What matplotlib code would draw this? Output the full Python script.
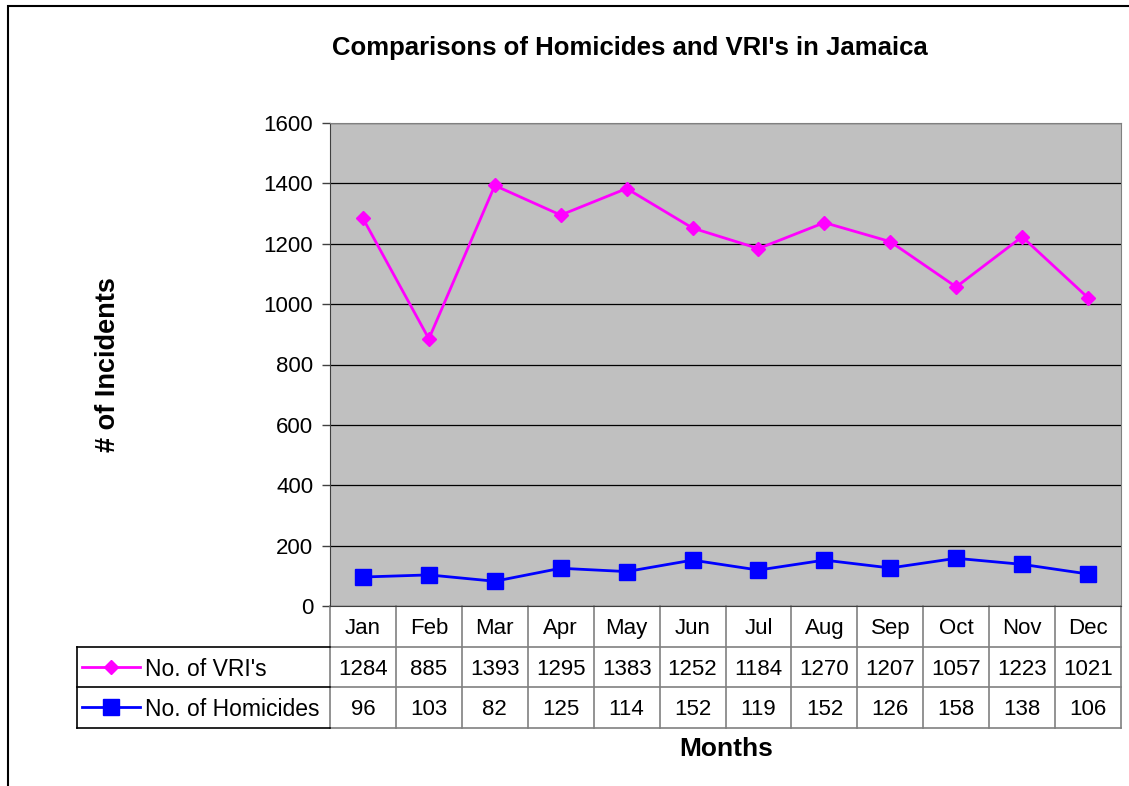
import matplotlib.pyplot as plt
from matplotlib.lines import Line2D
from matplotlib.patches import Rectangle

plt.rcParams['font.family'] = ['Liberation Sans', 'DejaVu Sans']

months = ["Jan", "Feb", "Mar", "Apr", "May", "Jun", "Jul", "Aug", "Sep", "Oct", "Nov", "Dec"]
vri = [1284, 885, 1393, 1295, 1383, 1252, 1184, 1270, 1207, 1057, 1223, 1021]
homicides = [96, 103, 82, 125, 114, 152, 119, 152, 126, 158, 138, 106]
series_names = ["No. of VRI's", "No. of Homicides"]

fs = 16
fig = plt.figure(figsize=(11.29, 7.86), dpi=100)
# outer chart border (clipped at right/bottom as in the reference)
fig.patches.append(Rectangle((8 / 1129, -0.01), 1.05, 1 - 6 / 786 + 0.01, transform=fig.transFigure,
                             fill=False, edgecolor='black', linewidth=1.5))

ax = fig.add_axes([330 / 1129, 1 - 606 / 786, 791 / 1129, 483 / 786])
ax.set_facecolor('#C0C0C0')
x = list(range(len(months)))
ax.plot(x, vri, color='#FF00FF', marker='D', markersize=7.5, linewidth=2, label=series_names[0])
ax.plot(x, homicides, color='#0000FF', marker='s', markersize=11, linewidth=2, label=series_names[1])

ax.set_xlim(-0.5, 11.5)
ax.set_ylim(0, 1600)
ax.set_yticks(range(0, 1601, 200))
ax.set_xticks([])
ax.grid(axis='y', color='black', linewidth=0.9)
ax.set_axisbelow(True)
ax.tick_params(axis='y', labelsize=fs, length=6, width=1, color='#404040', pad=6)
for s in ['top', 'right']:
    ax.spines[s].set_color('#808080')
for s in ['left', 'bottom']:
    ax.spines[s].set_color('#404040')

fig.text(630 / 1129, 1 - 48 / 786, "Comparisons of Homicides and VRI's in Jamaica", fontsize=18.5,
         fontweight='bold', ha='center', va='center')
fig.text(108 / 1129, 1 - 365 / 786, "# of Incidents", rotation=90, fontsize=19.5, fontweight='bold',
         ha='center', va='center')
fig.text(726 / 1129, 1 - 749 / 786, "Months", fontsize=19, fontweight='bold', ha='center', va='center')

# data table under the plot
tr = ax.get_xaxis_transform()
rh = 40.5 / 483
lx = (77 - 330) / 791 * 12 - 0.5  # legend cell left edge in data units
gray = '#808080'
for i in range(13):
    ax.plot([i - 0.5, i - 0.5], [0, -3 * rh], transform=tr, color=gray, lw=1.2, clip_on=False)
for k in (1, 2, 3):
    ax.plot([-0.5, 11.5], [-k * rh, -k * rh], transform=tr, color=gray, lw=1.2, clip_on=False)
    ax.plot([lx, -0.5], [-k * rh, -k * rh], transform=tr, color='black', lw=1.2, clip_on=False)
ax.plot([lx, lx], [-rh, -3 * rh], transform=tr, color='black', lw=1.2, clip_on=False)

for i, m in enumerate(months):
    ax.text(i, -0.5 * rh, m, transform=tr, ha='center', va='center_baseline', fontsize=fs)
    ax.text(i, -1.5 * rh, str(vri[i]), transform=tr, ha='center', va='center_baseline', fontsize=fs)
    ax.text(i, -2.5 * rh, str(homicides[i]), transform=tr, ha='center', va='center_baseline', fontsize=fs)

legend_rows = [(series_names[0], '#FF00FF', 'D', 7.5), (series_names[1], '#0000FF', 's', 11)]
for r, (name, col, mk, ms) in enumerate(legend_rows):
    yy = -(1.5 + r) * rh
    x0 = lx + 5 / 791 * 12
    x1 = lx + 63 / 791 * 12
    ax.add_line(Line2D([x0, x1], [yy, yy], transform=tr, color=col, lw=2, clip_on=False))
    ax.add_line(Line2D([(x0 + x1) / 2], [yy], transform=tr, color=col, marker=mk, markersize=ms,
                       linestyle='none', clip_on=False))
    ax.text(lx + 68 / 791 * 12, yy, name, transform=tr, ha='left', va='center_baseline', fontsize=16.5)

fig.savefig('out.png', dpi=100)
